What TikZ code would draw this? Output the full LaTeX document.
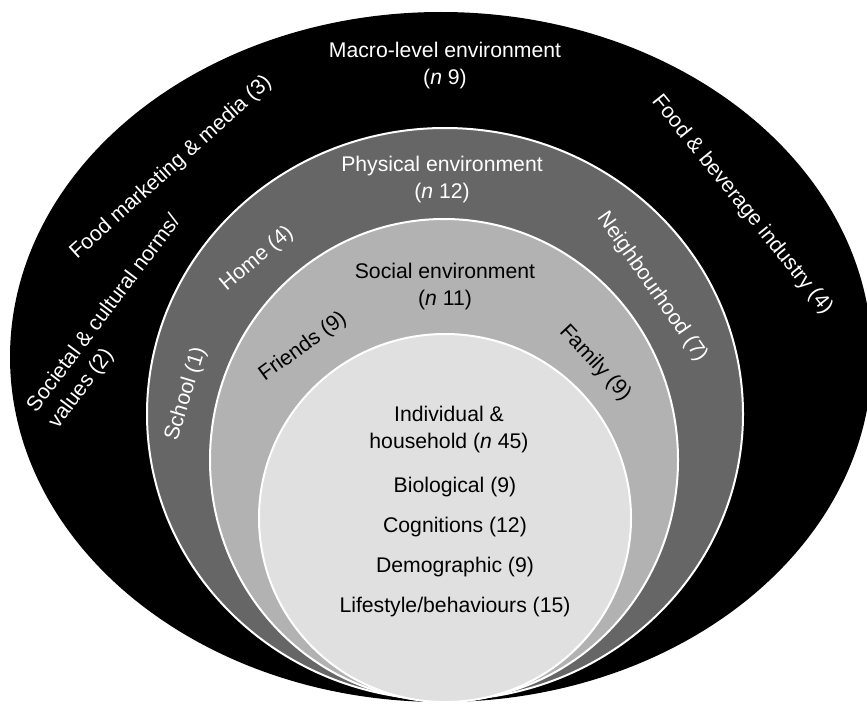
\documentclass[tikz,border=0pt]{standalone}
\usepackage{fontspec}
\setmainfont{Liberation Sans}
\usetikzlibrary{positioning}

\begin{document}
\begin{tikzpicture}[x=0.5pt,y=0.5pt,
    ring/.style={draw=white,line width=1pt},
    wlbl/.style={text=white,font=\fontsize{10.6}{13.5}\selectfont,align=center,inner sep=0pt},
    blbl/.style={text=black,font=\fontsize{10.6}{13.5}\selectfont,align=center,inner sep=0pt}]
    \useasboundingbox (0,0) rectangle (867,703);
    \fill[black] (441,346) ellipse [x radius=431, y radius=345];
    \filldraw[ring,fill=black!60] (445,289) ellipse [x radius=298, y radius=286];
    \filldraw[ring,fill=black!30] (444,243) ellipse [x radius=234, y radius=241];
    \filldraw[ring,fill=black!12] (445,185) ellipse [x radius=186, y radius=184];

    \node[wlbl] (macro) at (445,637) {Macro-level environment\\(\textit{n} 9)};
    \node[wlbl,rotate=42] (media) at (171,535) {Food marketing \& media (3)};
    \node[wlbl,rotate=53,align=left] (norms) at (115,381) {Societal \& cultural norms/\\values (2)};
    \node[wlbl,rotate=-51] (industry) at (742,498) {Food \& beverage industry (4)};

    \node[wlbl] (physical) at (442,523) {Physical environment\\(\textit{n} 12)};
    \node[wlbl,rotate=40] (home) at (257,444) {Home (4)};
    \node[wlbl,rotate=73] (school) at (186,309) {School (1)};
    \node[wlbl,rotate=-55] (neighbour) at (652,416) {Neighbourhood (7)};

    \node[blbl] (social) at (445,416) {Social environment\\(\textit{n} 11)};
    \node[blbl,rotate=36] (friends) at (303,356) {Friends (9)};
    \node[blbl,rotate=-47] (family) at (595,340) {Family (9)};

    \node[blbl] (indiv) at (449,273) {Individual \&\\household (\textit{n} 45)};
    \foreach \y/\txt [count=\i] in {216/{Biological (9)}, 176/{Cognitions (12)}, 136/{Demographic (9)}, 96/{Lifestyle/behaviours (15)}}
        \node[blbl] (item\i) at (455,\y) {\txt};
\end{tikzpicture}
\end{document}
